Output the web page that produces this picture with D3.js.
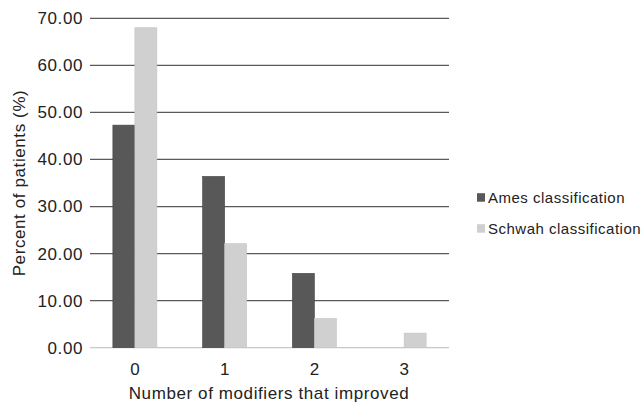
<html>
<head>
  <script src="https://d3js.org/d3.v7.min.js"></script>
  <style>
    body { margin: 0; background: white; }
    text { font-family: "Liberation Sans", Arial, sans-serif; fill: #222; }
  </style>
</head>
<body>
  <svg width="642" height="402" id="chart"></svg>
  <script>
    const categories = ["0", "1", "2", "3"];
    const seriesNames = ["Ames classification", "Schwah classification"];
    const ames = [47.3, 36.4, 15.8, 0];
    const schwah = [68.0, 22.1, 6.2, 3.1];
    const yTicks = [0, 10, 20, 30, 40, 50, 60, 70];
    const colors = ["#585858", "#d0d0d0"];

    const svg = d3.select("#chart");

    const xScale = d3.scaleBand().domain(categories).range([90, 449]).padding(0);
    const yScale = d3.scaleLinear().domain([0, 70]).range([347.7, 18.3]);
    const inner = d3.scaleBand().domain(seriesNames).range([0, 44]);

    // gridlines
    yTicks.forEach(t => {
      svg.append("line")
        .attr("x1", 90)
        .attr("x2", 449)
        .attr("y1", yScale(t))
        .attr("y2", yScale(t))
        .attr("stroke", t === 0 ? "#c8c8c8" : "#5a5a5a")
        .attr("stroke-width", 1.3);
    });

    // y axis labels
    let leftAxis = d3.axisLeft(yScale).tickValues(yTicks).tickFormat(d3.format(".2f")).tickSize(0).tickPadding(7);
    const yAxis = svg.append("g")
      .attr("transform", "translate(90,0)")
      .call(leftAxis);
    yAxis.select(".domain").remove();
    yAxis.selectAll("text").style("font-size", "17px").style("letter-spacing", "0.6px")
      .attr("fill", "#222")
      .style("font-family", '"Liberation Sans", Arial, sans-serif');

    // x axis labels
    let bottomAxis = d3.axisBottom(xScale).tickSize(0).tickPadding(15);
    const xAxis = svg.append("g")
      .attr("transform", "translate(0,347.7)")
      .call(bottomAxis);
    xAxis.select(".domain").remove();
    xAxis.selectAll("text").style("font-size", "17px")
      .attr("fill", "#222")
      .style("font-family", '"Liberation Sans", Arial, sans-serif');

    // bars
    const series = [ames, schwah];
    series.forEach((vals, si) => {
      vals.forEach((v, i) => {
        if (v <= 0) return;
        const cx = xScale(categories[i]) + xScale.bandwidth() / 2 - 22;
        svg.append("rect")
          .attr("x", cx + inner(seriesNames[si]))
          .attr("y", yScale(v))
          .attr("width", inner.bandwidth())
          .attr("height", yScale(0) - yScale(v))
          .attr("fill", colors[si])
          .attr("stroke", si === 0 ? "#444" : "#c4c4c4")
          .attr("stroke-width", 0.6);
      });
    });

    // axis titles
    svg.append("text")
      .attr("x", 269)
      .attr("y", 399)
      .style("text-anchor", "middle")
      .style("font-size", "17px")
      .style("letter-spacing", "0.6px")
      .text("Number of modifiers that improved");

    svg.append("text")
      .attr("transform", "translate(25,183) rotate(-90)")
      .style("text-anchor", "middle")
      .style("font-size", "17px")
      .style("letter-spacing", "0.6px")
      .text("Percent of patients (%)");

    // legend
    seriesNames.forEach((name, i) => {
      const y = 197.5 + i * 31;
      svg.append("rect")
        .attr("x", 477)
        .attr("y", y - 4.3)
        .attr("width", 8)
        .attr("height", 8.5)
        .attr("fill", colors[i]);
      svg.append("text")
        .attr("x", 488)
        .attr("y", y + 5.8)
        .style("font-size", "15px")
        .style("letter-spacing", "0.5px")
        .text(name);
    });
  </script>
</body>
</html>
